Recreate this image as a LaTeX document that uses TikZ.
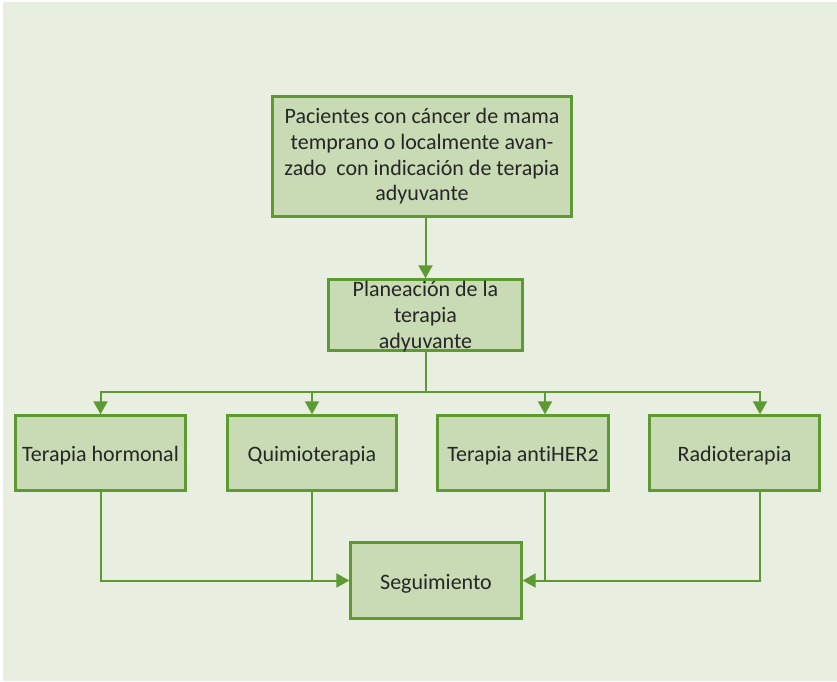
\documentclass[tikz,border=0pt]{standalone}
\usepackage{fontspec}
\setmainfont[Ligatures=NoCommon,Numbers=OldStyle]{Carlito}
\usetikzlibrary{positioning,arrows.meta}
\definecolor{fondo}{HTML}{E8EFE0}
\definecolor{relleno}{HTML}{C8DBB4}
\definecolor{borde}{HTML}{5E9A32}

\begin{document}
\begin{tikzpicture}[x=1pt,y=-1pt,
		caja/.style={draw=borde,fill=relleno,line width=2.4pt,align=center,inner sep=0pt,
			text=black!85,font=\fontsize{22}{25.7}\selectfont},
		terapia/.style={caja,minimum height=75,text height=17pt,text depth=0pt},
		linea/.style={draw=borde,line width=2pt},
		flecha/.style={linea,-{Triangle[length=13pt,width=14pt]}}]
	\useasboundingbox (0,0) rectangle (837,681);
	\fill[fondo] (3,2) rectangle (837,681);
	\node[caja,minimum width=299,minimum height=120] (paciente) at (422,156.5)
		{Pacientes con cáncer de mama\\temprano o localmente avan-\\zado\ \ con indicación de terapia\\adyuvante};
	\node[caja,minimum width=194,minimum height=71,text depth=-3pt] (planea) at (425.5,315)
		{Planeación de la\\terapia\\adyuvante};
	\node[terapia,minimum width=170] (hormonal) at (100.5,453) {Terapia hormonal};
	\node[terapia,minimum width=169] (quimio) at (312,453) {Quimioterapia};
	\node[terapia,minimum width=171] (antiher) at (523,453) {Terapia antiHER2};
	\node[terapia,minimum width=170] (radio) at (734.5,453) {Radioterapia};
	\node[terapia,minimum width=171,minimum height=76] (seguim) at (436,580.5) {Seguimiento};
	\coordinate (rama) at (425.5,392);
	\draw[flecha] (paciente.south -| planea.north) -- (planea.north);
	\draw[linea] (planea.south) -- (rama);
	\draw[flecha] (rama) -| (hormonal.north);
	\draw[flecha] (rama) -| (quimio.north);
	\draw[flecha] (rama) -| ([xshift=22pt]antiher.north);
	\draw[flecha] (rama) -| ([xshift=25.5pt]radio.north);
	\draw[flecha] (hormonal.south) |- (seguim.west);
	\draw[linea] (quimio.south) -- (quimio.south |- seguim.west);
	\draw[flecha] ([xshift=22pt]antiher.south) |- (seguim.east);
	\draw[linea] ([xshift=25.5pt]radio.south) |- ([xshift=22pt]antiher.south |- seguim.east);
\end{tikzpicture}
\end{document}
